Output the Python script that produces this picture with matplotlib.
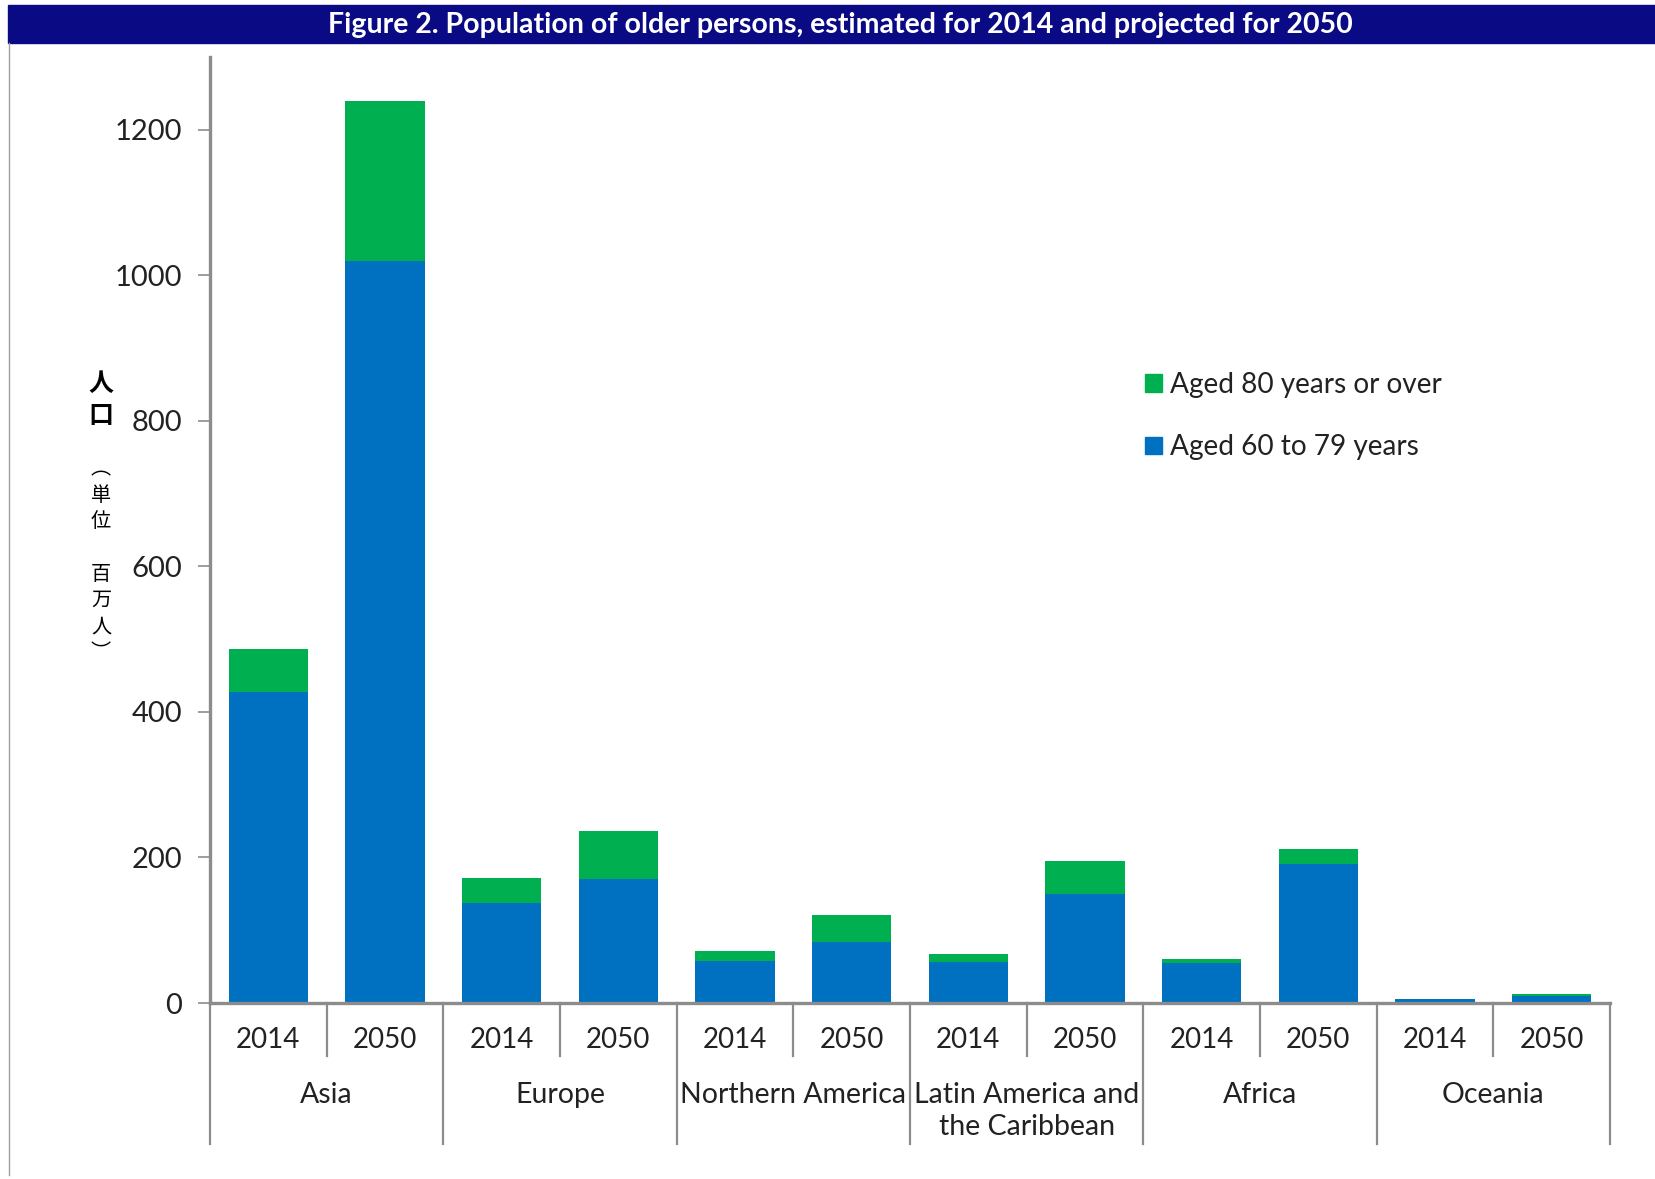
import matplotlib
matplotlib.use("Agg")
import matplotlib.pyplot as plt
import matplotlib.patches as mpatches
import matplotlib.transforms as mtransforms
import numpy as np

plt.rcParams['font.family'] = ['Lato', 'Noto Sans CJK JP', 'DejaVu Sans']

regions = ['Asia', 'Europe', 'Northern America', 'Latin America and\nthe Caribbean', 'Africa', 'Oceania']
years = ['2014', '2050']
# millions, per region: 2014, 2050
aged_60_79 = [427, 1019, 138, 170, 58, 84, 57, 150, 55, 191, 5, 9]
aged_80_plus = [59, 220, 34, 67, 13, 37, 10, 45, 6, 20, 1, 3]
label_80 = 'Aged 80 years or over'
label_60 = 'Aged 60 to 79 years'
title = 'Figure 2. Population of older persons, estimated for 2014 and projected for 2050'
ylabel_big = '人\n口'
ylabel_small = '︵\n単\n位\n\u3000\n百\n万\n人\n︶'

blue = '#0070C0'
green = '#00B050'
gray = '#8C8C8C'

W, H = 1656, 1179
fig = plt.figure(figsize=(W / 100, H / 100), dpi=100)
ax = fig.add_axes([210 / W, 1 - 1003 / H, 1400 / W, 946 / H])

x = np.arange(len(aged_60_79))
ax.bar(x, aged_60_79, width=0.68, color=blue)
ax.bar(x, aged_80_plus, width=0.68, bottom=aged_60_79, color=green)

ax.set_xlim(-0.5, len(x) - 0.5)
ax.set_ylim(0, 1300)
ax.set_yticks(range(0, 1201, 200))
ax.tick_params(axis='y', labelsize=21, length=9, width=1.2, color=gray, pad=11, labelcolor='#222222')
ax.set_xticks([])
for s in ['top', 'right']:
    ax.spines[s].set_visible(False)
ax.spines['left'].set_color(gray)
ax.spines['left'].set_linewidth(2.4)
ax.spines['bottom'].set_color(gray)
ax.spines['bottom'].set_linewidth(2.4)

# category axis below the plot
tr = mtransforms.blended_transform_factory(ax.transData, ax.transAxes)
for i in range(len(regions) + 1):
    ax.plot([i * 2 - 0.5] * 2, [0, -0.149], transform=tr, color=gray, lw=1.6, clip_on=False)
for i in range(len(regions)):
    ax.plot([i * 2 + 0.5] * 2, [0, -0.056], transform=tr, color=gray, lw=1.6, clip_on=False)
    for j, yr in enumerate(years):
        ax.text(i * 2 + j, -0.039, yr, transform=tr, ha='center', va='center', fontsize=20, color='#222222')
    ax.text(i * 2 + 0.5, -0.083, regions[i], transform=tr, ha='center', va='top', fontsize=20.5,
            color='#222222', linespacing=1.3)

handles = [mpatches.Patch(color=green, label=label_80), mpatches.Patch(color=blue, label=label_60)]
fig.legend(handles=handles, loc='upper left', bbox_to_anchor=(1145 / W, 1 - 372 / H), frameon=False,
           fontsize=20.2, handlelength=0.6, handleheight=0.6, handletextpad=0.3, labelspacing=1.3,
           borderpad=0, borderaxespad=0, labelcolor='#222222')

# y label, stacked vertically
fig.text(101 / W, 1 - 400 / H, ylabel_big, ha='center', va='center', fontsize=18, fontweight='bold',
         family=['Noto Sans CJK JP'], linespacing=1.45)
fig.text(101 / W, 1 - 561 / H, ylabel_small, ha='center', va='center', fontsize=14.5,
         family=['Noto Sans CJK JP'], linespacing=1.33)

# title bar and page border
fig.patches.append(mpatches.Rectangle((8 / W, 1 - 43 / H), 1 - 8 / W, 38 / H, transform=fig.transFigure,
                                      color='#0A0A85', zorder=0))
fig.lines.append(plt.Line2D([9 / W, 9 / W], [1 - 43 / H, 1 - 1175 / H], transform=fig.transFigure,
                            color='#A0A0A0', lw=1))
fig.text(840 / W, 1 - 25 / H, title, ha='center', va='center', fontsize=20.5, fontweight='bold', color='white')

fig.savefig('out.png', dpi=100)
